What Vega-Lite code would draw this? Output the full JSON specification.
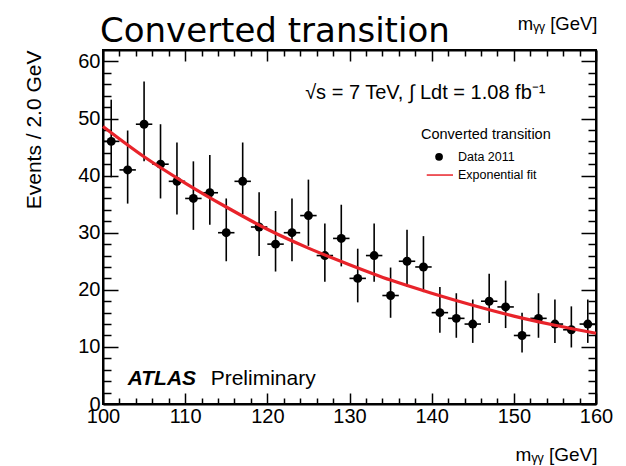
{
  "$schema": "https://vega.github.io/schema/vega-lite/v6.json",
  "width": 493,
  "height": 354,
  "autosize": {"type": "none"},
  "padding": {"left": 103, "top": 50, "right": 30, "bottom": 62},
  "background": "white",
  "title": {"text": "Converted transition", "anchor": "start", "frame": "group", "font": "DejaVu Sans", "fontSize": 34, "fontWeight": "normal", "color": "#000", "dx": -3, "offset": -35},
  "config": {
    "view": {"stroke": "#000", "strokeWidth": 2},
    "axis": {"grid": false, "domainColor": "#000", "domainWidth": 2, "tickColor": "#000", "tickWidth": 1.5, "labelColor": "#000", "titleColor": "#000", "labelFont": "Liberation Sans", "titleFont": "Liberation Sans", "labelFontWeight": "normal", "titleFontWeight": "normal", "labelFlush": false, "labelOverlap": false, "labelBound": false}
  },
  "datasets": {
    "obs": [
      {"m": 101, "n": 46, "lo": 39.7, "hi": 53.3, "x0": 100, "x1": 102},
      {"m": 103, "n": 41, "lo": 35.1, "hi": 47.9, "x0": 102, "x1": 104},
      {"m": 105, "n": 49, "lo": 42.5, "hi": 56.5, "x0": 104, "x1": 106},
      {"m": 107, "n": 42, "lo": 36.0, "hi": 49.0, "x0": 106, "x1": 108},
      {"m": 109, "n": 39, "lo": 33.2, "hi": 45.8, "x0": 108, "x1": 110},
      {"m": 111, "n": 36, "lo": 30.5, "hi": 42.5, "x0": 110, "x1": 112},
      {"m": 113, "n": 37, "lo": 31.4, "hi": 43.6, "x0": 112, "x1": 114},
      {"m": 115, "n": 30, "lo": 25.0, "hi": 36.0, "x0": 114, "x1": 116},
      {"m": 117, "n": 39, "lo": 33.2, "hi": 45.8, "x0": 116, "x1": 118},
      {"m": 119, "n": 31, "lo": 25.9, "hi": 37.1, "x0": 118, "x1": 120},
      {"m": 121, "n": 28, "lo": 23.2, "hi": 33.8, "x0": 120, "x1": 122},
      {"m": 123, "n": 30, "lo": 25.0, "hi": 36.0, "x0": 122, "x1": 124},
      {"m": 125, "n": 33, "lo": 27.7, "hi": 39.3, "x0": 124, "x1": 126},
      {"m": 127, "n": 26, "lo": 21.4, "hi": 31.6, "x0": 126, "x1": 128},
      {"m": 129, "n": 29, "lo": 24.1, "hi": 34.9, "x0": 128, "x1": 130},
      {"m": 131, "n": 22, "lo": 17.8, "hi": 27.2, "x0": 130, "x1": 132},
      {"m": 133, "n": 26, "lo": 21.4, "hi": 31.6, "x0": 132, "x1": 134},
      {"m": 135, "n": 19, "lo": 15.1, "hi": 23.9, "x0": 134, "x1": 136},
      {"m": 137, "n": 25, "lo": 20.5, "hi": 30.5, "x0": 136, "x1": 138},
      {"m": 139, "n": 24, "lo": 19.6, "hi": 29.4, "x0": 138, "x1": 140},
      {"m": 141, "n": 16, "lo": 12.5, "hi": 20.5, "x0": 140, "x1": 142},
      {"m": 143, "n": 15, "lo": 11.6, "hi": 19.4, "x0": 142, "x1": 144},
      {"m": 145, "n": 14, "lo": 10.7, "hi": 18.3, "x0": 144, "x1": 146},
      {"m": 147, "n": 18, "lo": 14.2, "hi": 22.8, "x0": 146, "x1": 148},
      {"m": 149, "n": 17, "lo": 13.3, "hi": 21.6, "x0": 148, "x1": 150},
      {"m": 151, "n": 12, "lo": 9.0, "hi": 16.0, "x0": 150, "x1": 152},
      {"m": 153, "n": 15, "lo": 11.6, "hi": 19.4, "x0": 152, "x1": 154},
      {"m": 155, "n": 14, "lo": 10.7, "hi": 18.3, "x0": 154, "x1": 156},
      {"m": 157, "n": 13, "lo": 9.9, "hi": 17.1, "x0": 156, "x1": 158},
      {"m": 159, "n": 14, "lo": 10.7, "hi": 18.3, "x0": 158, "x1": 160}
    ],
    "fit": [
      {"m": 100, "f": 48.6}, {"m": 105, "f": 43.3}, {"m": 110, "f": 38.7},
      {"m": 115, "f": 34.5}, {"m": 120, "f": 30.6}, {"m": 125, "f": 27.3},
      {"m": 130, "f": 24.4}, {"m": 135, "f": 21.7}, {"m": 140, "f": 19.4},
      {"m": 145, "f": 17.3}, {"m": 150, "f": 15.4}, {"m": 155, "f": 13.8},
      {"m": 160, "f": 12.4}
    ]
  },
  "resolve": {"axis": {"x": "independent", "y": "independent"}},
  "layer": [
    {
      "data": {"name": "obs"},
      "mark": {"type": "rule", "color": "#000", "strokeWidth": 1.6},
      "encoding": {
        "x": {"field": "m", "type": "quantitative", "scale": {"domain": [100, 160], "nice": false, "zero": false},
          "axis": {"orient": "bottom", "values": [100,102,104,106,108,110,112,114,116,118,120,122,124,126,128,130,132,134,136,138,140,142,144,146,148,150,152,154,156,158,160],
            "tickSize": {"condition": {"test": "datum.value % 10 === 0", "value": -11}, "value": -6},
            "labelExpr": "datum.value % 10 === 0 ? datum.label : ''", "labelFontSize": 20, "labelPadding": 13,
            "title": "mᵧᵧ [GeV]", "titleFontSize": 19, "titleAnchor": "end", "titleAlign": "right", "titleX": 494, "titleY": 56, "titleBaseline": "alphabetic"}},
        "y": {"field": "lo", "type": "quantitative", "scale": {"domain": [0, 62], "nice": false},
          "axis": {"orient": "left", "values": [0,2,4,6,8,10,12,14,16,18,20,22,24,26,28,30,32,34,36,38,40,42,44,46,48,50,52,54,56,58,60],
            "tickSize": {"condition": {"test": "datum.value % 10 === 0", "value": -15}, "value": -8},
            "labelExpr": "datum.value % 10 === 0 ? datum.label : ''", "labelFontSize": 20, "labelPadding": 18,
            "title": "Events / 2.0 GeV", "titleFontSize": 21, "titleAnchor": "end", "titleAlign": "right", "titleAngle": 270, "titleX": -69, "titleY": 0, "titleBaseline": "middle"}},
        "y2": {"field": "hi"}
      }
    },
    {
      "data": {"name": "obs"},
      "mark": {"type": "rule", "color": "#000", "strokeWidth": 1.6},
      "encoding": {
        "x": {"field": "x0", "type": "quantitative", "axis": null},
        "x2": {"field": "x1"},
        "y": {"field": "n", "type": "quantitative", "axis": null}
      }
    },
    {
      "data": {"name": "obs"},
      "mark": {"type": "point", "shape": "circle", "filled": true, "color": "#000", "opacity": 1, "size": 80},
      "encoding": {
        "x": {"field": "m", "type": "quantitative", "axis": null},
        "y": {"field": "n", "type": "quantitative", "axis": null}
      }
    },
    {
      "data": {"name": "fit"},
      "mark": {"type": "line", "color": "#e8232a", "strokeWidth": 3.2, "interpolate": "monotone"},
      "encoding": {
        "x": {"field": "m", "type": "quantitative",
          "axis": {"orient": "top", "values": [100,102,104,106,108,110,112,114,116,118,120,122,124,126,128,130,132,134,136,138,140,142,144,146,148,150,152,154,156,158,160],
            "tickSize": {"condition": {"test": "datum.value % 10 === 0", "value": -11}, "value": -6},
            "labels": false,
            "title": "mᵧᵧ [GeV]", "titleFontSize": 18.5, "titleAnchor": "end", "titleAlign": "right", "titleX": 494, "titleY": -21, "titleBaseline": "alphabetic"}},
        "y": {"field": "f", "type": "quantitative",
          "axis": {"orient": "right", "values": [0,2,4,6,8,10,12,14,16,18,20,22,24,26,28,30,32,34,36,38,40,42,44,46,48,50,52,54,56,58,60],
            "tickSize": {"condition": {"test": "datum.value % 10 === 0", "value": -15}, "value": -8},
            "labels": false, "title": null}}
      }
    },
    {
      "data": {"values": [{"t": "√s = 7 TeV, ∫ Ldt = 1.08 fb⁻¹"}]},
      "mark": {"type": "text", "align": "left", "baseline": "middle", "font": "Liberation Sans", "fontSize": 20, "color": "#000"},
      "encoding": {"x": {"datum": 124.6, "type": "quantitative", "axis": null}, "y": {"datum": 54.5, "type": "quantitative", "axis": null}, "text": {"field": "t"}}
    },
    {
      "data": {"values": [{"t": "Converted transition"}]},
      "mark": {"type": "text", "align": "left", "baseline": "middle", "font": "Liberation Sans", "fontSize": 14.5, "color": "#000"},
      "encoding": {"x": {"datum": 138.7, "type": "quantitative", "axis": null}, "y": {"datum": 47.1, "type": "quantitative", "axis": null}, "text": {"field": "t"}}
    },
    {
      "data": {"values": [{"t": "Data 2011"}]},
      "mark": {"type": "text", "align": "left", "baseline": "middle", "font": "Liberation Sans", "fontSize": 12.5, "color": "#000"},
      "encoding": {"x": {"datum": 143.2, "type": "quantitative", "axis": null}, "y": {"datum": 43.3, "type": "quantitative", "axis": null}, "text": {"field": "t"}}
    },
    {
      "data": {"values": [{"t": "Exponential fit"}]},
      "mark": {"type": "text", "align": "left", "baseline": "middle", "font": "Liberation Sans", "fontSize": 12.5, "color": "#000"},
      "encoding": {"x": {"datum": 143.2, "type": "quantitative", "axis": null}, "y": {"datum": 40.1, "type": "quantitative", "axis": null}, "text": {"field": "t"}}
    },
    {
      "data": {"values": [{"k": "Data 2011"}]},
      "mark": {"type": "point", "shape": "circle", "filled": true, "color": "#000", "opacity": 1, "size": 60},
      "encoding": {"x": {"datum": 140.9, "type": "quantitative", "axis": null}, "y": {"datum": 43.3, "type": "quantitative", "axis": null}}
    },
    {
      "data": {"values": [{"k": "Exponential fit"}]},
      "mark": {"type": "rule", "color": "#e8232a", "strokeWidth": 1.5},
      "encoding": {"x": {"datum": 139.4, "type": "quantitative", "axis": null}, "x2": {"datum": 142.6}, "y": {"datum": 40.1, "type": "quantitative", "axis": null}}
    },
    {
      "data": {"values": [{"t": "ATLAS"}]},
      "mark": {"type": "text", "align": "left", "baseline": "middle", "font": "Liberation Sans", "fontSize": 21, "fontWeight": "bold", "fontStyle": "italic", "color": "#000"},
      "encoding": {"x": {"datum": 103.0, "type": "quantitative", "axis": null}, "y": {"datum": 4.4, "type": "quantitative", "axis": null}, "text": {"field": "t"}}
    },
    {
      "data": {"values": [{"t": "Preliminary"}]},
      "mark": {"type": "text", "align": "left", "baseline": "middle", "font": "Liberation Sans", "fontSize": 21, "color": "#000"},
      "encoding": {"x": {"datum": 113.1, "type": "quantitative", "axis": null}, "y": {"datum": 4.4, "type": "quantitative", "axis": null}, "text": {"field": "t"}}
    }
  ]
}
